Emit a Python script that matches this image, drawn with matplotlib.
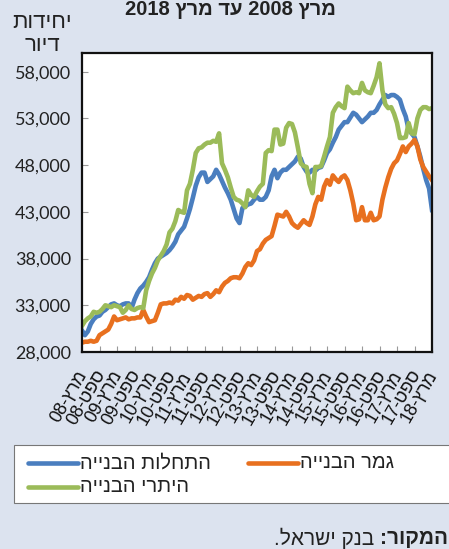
import re
import matplotlib
matplotlib.use("Agg")
import matplotlib.pyplot as plt
from matplotlib.lines import Line2D
from matplotlib.patches import Rectangle
from matplotlib.transforms import ScaledTranslation


def vis(s):
    # matplotlib has no bidi: flip the string and put digit runs back in order
    r = s[::-1]
    return re.sub(r"[0-9,]+", lambda m: m.group(0)[::-1], r)


title = "מרץ 2008 עד מרץ 2018"
y_title = "יחידות\nדיור"
source_bold = "המקור:"
source_rest = " בנק ישראל."
series_names = ["התחלות הבנייה", "גמר הבנייה", "היתרי הבנייה"]

# monthly, March 2008 .. March 2018
starts = [
    30300, 29800, 30200, 31000, 31500, 31800, 31900, 32300, 32500, 32800, 33100, 33200,
    33000, 32900, 33100, 33200, 33200, 32700, 33600, 34300, 34800, 35100, 35500, 36000,
    36800, 37500, 38000, 38200, 38400, 38600, 38900, 39300, 39800, 40600, 41000, 41400,
    42300, 43300, 44500, 45800, 46700, 47200, 47200, 46200, 46500, 46800, 47500, 47000,
    46300, 45600, 45000, 44300, 43300, 42300, 41800, 43400, 43600, 43800, 43900, 44300,
    44600, 44300, 44300, 44600, 45300, 46800, 47500, 46600, 47200, 47500, 47500, 47800,
    48100, 48400, 48900, 48700, 47800, 47300, 47200, 47500, 47400, 47700, 47800, 48500,
    49300, 49700, 50400, 51000, 51800, 52200, 52600, 52600, 53100, 53600, 53400, 53000,
    52600, 52900, 53200, 53600, 53600, 53900, 54500, 55000, 55500, 55300, 55500, 55500,
    55300, 55000, 54000, 53200, 51800, 51400, 51000, 50000, 48900, 47600, 46400, 45500,
    43200,
]
completions = [
    29000, 29100, 29100, 29200, 29100, 29200, 29800, 30000, 30200, 30400, 31000, 31800,
    31400, 31500, 31600, 31700, 31500, 31600, 31600, 31700, 31700, 32500, 31800, 31200,
    31300, 31400, 32200, 33100, 33200, 33200, 33300, 33200, 33600, 33500, 33900, 33700,
    34100, 34000, 33600, 33800, 34000, 33900, 34200, 34300, 33900, 34200, 34600, 34400,
    35000, 35400, 35600, 35900, 36000, 36000, 35900, 36400, 37100, 37500, 37300, 37800,
    38800, 39000, 39600, 40000, 40200, 40400, 41500, 42700, 42600, 42500, 43000, 42500,
    41800, 41500, 41300, 41700, 42100, 41800, 41600, 42500, 43800, 44600, 44300, 45700,
    46400, 45900, 46900, 46500, 46200, 46700, 46900, 46400, 45300, 43900, 42100, 42200,
    43500, 42100, 42100, 42900, 42100, 42200, 42500, 44300, 45600, 46700, 47600, 48200,
    48500, 49200, 50000, 49400, 50000, 50300, 50700, 50000, 48600, 47800, 47300, 46800,
    46400,
]
permits = [
    30800, 31300, 31600, 31800, 32300, 32200, 32300, 32600, 33000, 32900, 32800, 33000,
    32900, 32800, 32200, 32500, 33000, 32600, 32500, 32700, 32800, 32700, 34600, 35600,
    36400, 37000, 37800, 38300, 38800, 39500, 40800, 41200, 42000, 43200, 43000, 42900,
    45300, 46000, 47500, 49300, 49800, 49900, 50200, 50400, 50400, 50600, 50500, 51400,
    48200, 47500, 46700, 45600, 44600, 44300, 44200, 43900, 43500, 45300, 44800, 44600,
    45200, 45700, 46000, 49300, 49600, 49500, 51800, 51800, 50200, 50300, 52000, 52500,
    52400, 51500, 49900, 48200, 47900, 47800, 46000, 45000, 47800, 47800, 47900, 48900,
    50000, 51000, 53600, 54200, 54600, 54300, 54100, 56400, 56000, 55700, 55800, 55700,
    56800, 56000, 55800, 55700, 56500, 57400, 58900, 56000, 54500, 54100, 54200, 53500,
    52500, 50900, 50900, 51000, 52500, 51400, 51300, 53000, 53900, 54200, 54200, 54000,
    54100,
]
tick_labels = []
for yy in range(8, 19):
    tick_labels.append("מרץ-%02d" % yy)
    if yy < 18:
        tick_labels.append("ספט-%02d" % yy)
y_ticks = [28000, 33000, 38000, 43000, 48000, 53000, 58000]

colors = ["#4a7ebf", "#e8701f", "#9bbb59"]
bg = "#dce3ef"
heb = ["Liberation Sans", "DejaVu Sans"]

fig = plt.figure(figsize=(4.49, 5.49), dpi=100, facecolor=bg)
ax = fig.add_axes([82 / 449, 1 - 352 / 549, 350 / 449, 299 / 549])
ax.set_facecolor("white")

months = list(range(len(starts)))
ax.plot(months, starts, color=colors[0], lw=3.3, solid_joinstyle="round")
ax.plot(months, completions, color=colors[1], lw=3.3, solid_joinstyle="round")
ax.plot(months, permits, color=colors[2], lw=3.3, solid_joinstyle="round")

ax.set_xlim(0, 120)
ax.set_ylim(28000, 60000)
ax.set_yticks(y_ticks)
ax.set_yticklabels(["{:,}".format(v) for v in y_ticks], family=["Lato", "DejaVu Sans"],
                   fontsize=13, color="#222222")
ax.set_xticks(range(0, 121, 6))
ax.set_xticklabels([vis(t) for t in tick_labels], rotation=60, ha="center",
                   rotation_mode="anchor", va="center", family=heb, fontsize=13,
                   color="#111111")
ax.tick_params(axis="y", direction="in", length=4, color="#999999", pad=8)
ax.tick_params(axis="x", direction="in", length=4, color="#999999", pad=0)
shift = ScaledTranslation(-13 / 100, -45 / 100, fig.dpi_scale_trans)
for lab in ax.get_xticklabels():
    lab.set_transform(lab.get_transform() + shift)
for sp in ax.spines.values():
    sp.set_linewidth(1.6)
    sp.set_color("#111111")

fig.text(230 / 449, 1 - 15 / 549, vis(title), ha="center", va="baseline",
         fontsize=14.5, fontweight="bold", family=heb, color="#222222")
fig.text(42 / 449, 1 - 34 / 549, "\n".join(vis(l) for l in y_title.split("\n")),
         ha="center", va="center", fontsize=16, family=heb, color="#222222",
         linespacing=1.1)

# legend box, drawn by hand (Excel RTL style)
fig.patches.append(Rectangle((14 / 449, 1 - 503 / 549), 440 / 449, 58 / 549,
                             transform=fig.transFigure, facecolor="white",
                             edgecolor="#777777", lw=0.8))
entries = [(0, 28, 463), (1, 248, 463), (2, 28, 487)]
for i, x0, y0 in entries:
    yy = 1 - y0 / 549
    fig.lines.append(Line2D([x0 / 449, (x0 + 50) / 449], [yy, yy], transform=fig.transFigure,
                            color=colors[i], lw=3.3, solid_capstyle="round"))
    fig.text((x0 + 52) / 449, yy, vis(series_names[i]), ha="left", va="center",
             fontsize=14.5, family=heb, color="#222222")

t1 = fig.text(448 / 449, 1 - 538 / 549, vis(source_bold), ha="right", va="center",
              fontsize=15, fontweight="bold", family=heb, color="#222222")
fig.canvas.draw()
bb = t1.get_window_extent()
fig.text(bb.x0 / fig.bbox.width, 1 - 538 / 549, vis(source_rest), ha="right", va="center",
         fontsize=15, family=heb, color="#222222")

fig.savefig("out.png", dpi=100, facecolor=bg)
